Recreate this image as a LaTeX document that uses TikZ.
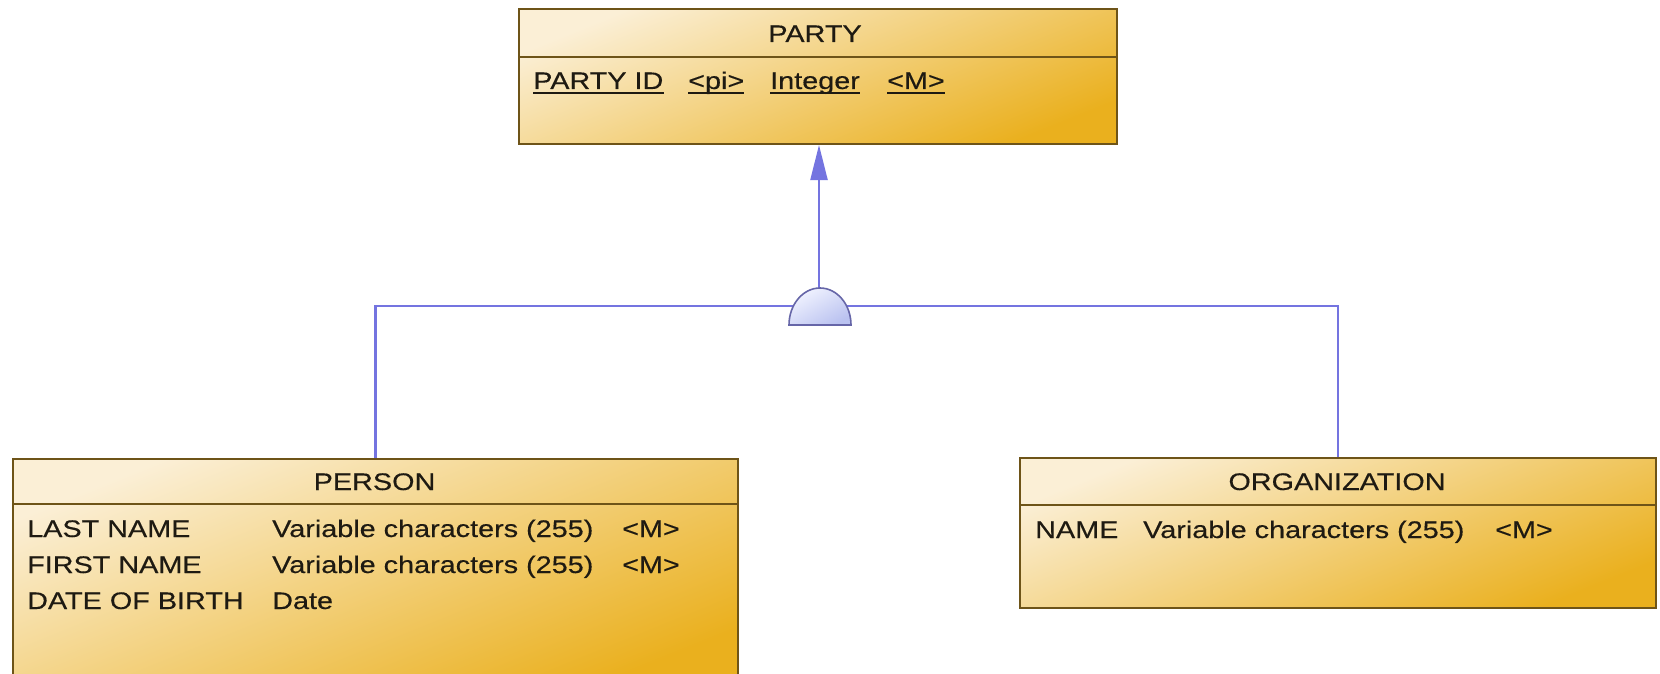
\documentclass[tikz,border=0pt]{standalone}
\usepackage{fontspec}
\setmainfont{Liberation Sans}[FakeStretch=1.2, FakeBold=0.35]
\usetikzlibrary{arrows.meta}
\definecolor{cream}{HTML}{FBEFD6}
\definecolor{midgold}{HTML}{F3CB5E}
\definecolor{gold}{HTML}{EAB01E}
\definecolor{bord}{HTML}{6E5418}
\definecolor{linkc}{HTML}{7474E0}
\definecolor{inhA}{HTML}{F2F4FF}
\definecolor{inhB}{HTML}{BAC2F0}
\definecolor{inhline}{HTML}{6666A8}
\definecolor{txt}{HTML}{1E1A12}
\begin{document}
\begin{tikzpicture}[x=1pt,y=-1pt,
  entity/.style={draw=bord, line width=2pt, top color=cream, middle color=midgold, bottom color=gold,
    shading angle=22, rectangle, inner sep=0pt, anchor=north west},
  sepline/.style={draw=bord, line width=2pt},
  lbl/.style={font=\fontsize{24}{29}\selectfont, text=txt, inner sep=0pt, anchor=base west},
  hdr/.style={font=\fontsize{24}{29}\selectfont, text=txt, inner sep=0pt, anchor=base},
  ul/.style={draw=txt, line width=1.6pt},
  linkline/.style={draw=linkc, line width=2.2pt},
  inh/.style={draw=inhline, line width=1.6pt, top color=inhA, bottom color=inhB, shading angle=30}]
\useasboundingbox (0,0) rectangle (1660,674);
\clip (0,0) rectangle (1660,674);
\fill[white] (0,0) rectangle (1660,674);

% entities
\node[entity, minimum width=598pt, minimum height=135pt] (party) at (518,8) {};
\draw[sepline] (518,57) -- (1116,57);
\node[hdr] (partyh) at (815,42) {PARTY};
\node[lbl] (pid) at (533,89) {PARTY ID};
\node[lbl] (ppi) at (688,89) {<pi>};
\node[lbl] (pint) at (770,89) {Integer};
\node[lbl] (pm) at (887,89) {<M>};
\foreach \n in {pid,ppi,pint,pm}
  \draw[ul] ([yshift=-4pt]\n.base west) -- ([yshift=-4pt]\n.base east);

\node[entity, minimum width=725pt, minimum height=230pt] (person) at (12,458) {};
\draw[sepline] (12,504) -- (737,504);
\node[hdr] (personh) at (374.5,490) {PERSON};
\node[lbl] (ln) at (27,537) {LAST NAME};
\node[lbl] (lnt) at (272,537) {Variable characters (255)};
\node[lbl] (lnm) at (622,537) {<M>};
\node[lbl] (fn) at (27,573) {FIRST NAME};
\node[lbl] (fnt) at (272,573) {Variable characters (255)};
\node[lbl] (fnm) at (622,573) {<M>};
\node[lbl] (db) at (27,609) {DATE OF BIRTH};
\node[lbl] (dbt) at (272,609) {Date};

\node[entity, minimum width=636pt, minimum height=150pt] (org) at (1019,457) {};
\draw[sepline] (1019,505) -- (1655,505);
\node[hdr] (orgh) at (1337,490) {ORGANIZATION};
\node[lbl] (on) at (1035,538) {NAME};
\node[lbl] (ont) at (1143,538) {Variable characters (255)};
\node[lbl] (onm) at (1495,538) {<M>};

% inheritance
\coordinate (inhtop) at (819,288);
\coordinate (inhL) at (794,306);
\coordinate (inhR) at (846,306);
\draw[linkline] (inhL) -| (person.north);
\draw[linkline] (inhR) -| (org.north);
\draw[linkline, -{Triangle[length=35pt, width=17pt]}] (inhtop) -- (inhtop |- party.south);
\draw[inh] (789,325) arc[start angle=180, end angle=360, x radius=31, y radius=37] -- cycle;
\end{tikzpicture}
\end{document}
